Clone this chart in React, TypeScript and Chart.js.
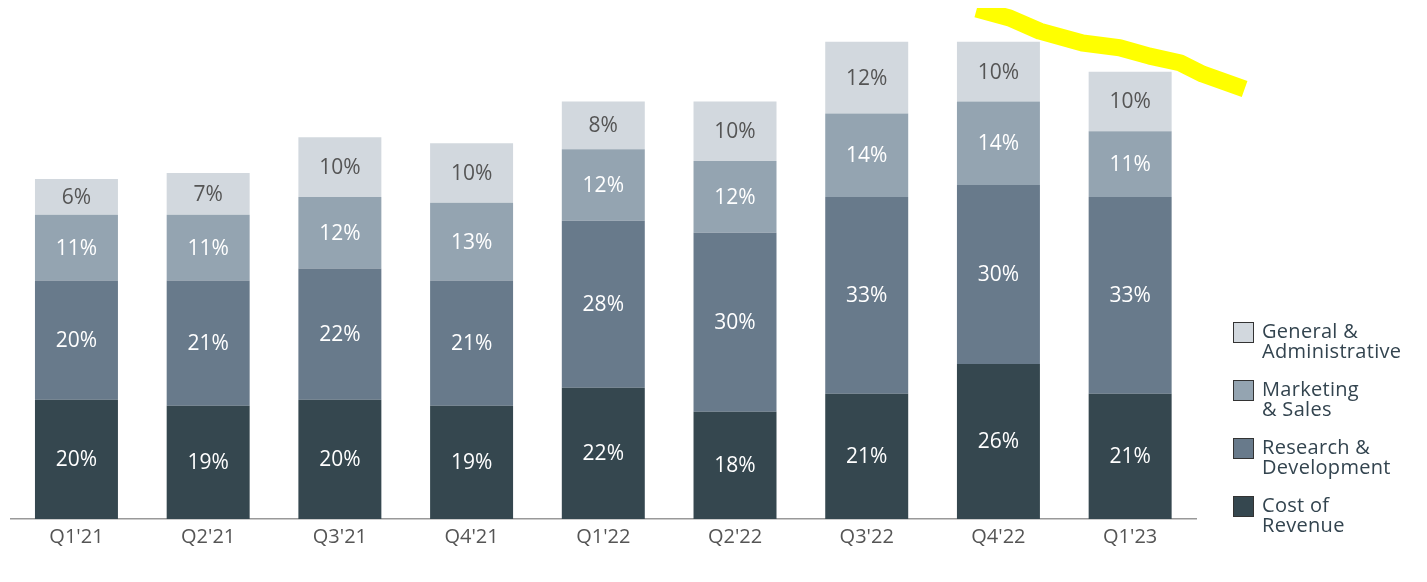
import React, { useEffect, useRef } from "react";
import { Chart, registerables } from "chart.js";

Chart.register(...registerables);

const categories = ["Q1'21", "Q2'21", "Q3'21", "Q4'21", "Q1'22", "Q2'22", "Q3'22", "Q4'22", "Q1'23"];
const costOfRevenue = [20, 19, 20, 19, 22, 18, 21, 26, 21];
const researchDev = [20, 21, 22, 21, 28, 30, 33, 30, 33];
const marketingSales = [11, 11, 12, 13, 12, 12, 14, 14, 11];
const generalAdmin = [6, 7, 10, 10, 8, 10, 12, 10, 10];

// hand-drawn yellow highlight stroke (in data units: category index, percent), listed right to left
const highlightX = [8.869, 8.55, 8.376, 8.148, 7.92, 7.639, 7.313, 7.085, 6.835];
const highlightY = [72.1, 74.6, 76.5, 77.6, 79.0, 79.8, 81.8, 84.0, 85.5];

const seriesNames = ["Cost of\nRevenue", "Research &\nDevelopment", "Marketing\n& Sales", "General &\nAdministrative"];
const seriesColors = ["#35474f", "#687a8b", "#94a4b1", "#d2d8de"];
const labelColors = ["#ffffff", "#ffffff", "#ffffff", "#555555"];

const FONT = "'Open Sans', sans-serif";

const labelPlugin = {
  id: "segLabels",
  afterDatasetsDraw(chart: any) {
    const ctx = chart.ctx;
    ctx.save();
    ctx.font = `21px ${FONT}`;
    ctx.textAlign = "center";
    ctx.textBaseline = "middle";
    chart.data.datasets.forEach((ds: any, di: number) => {
      if (ds.type === "line") return;
      const meta = chart.getDatasetMeta(di);
      meta.data.forEach((bar: any, i: number) => {
        const v = ds.data[i];
        const cy = (bar.y + bar.base) / 2;
        ctx.fillStyle = labelColors[di];
        ctx.fillText(`${v}%`, bar.x, cy + 1);
      });
    });
    ctx.restore();
  },
};

export default function App() {
  const ref = useRef<HTMLCanvasElement>(null);
  useEffect(() => {
    if (!ref.current) return;
    const barSets = [costOfRevenue, researchDev, marketingSales, generalAdmin].map((d, i) => ({
      type: "bar" as const,
      label: seriesNames[i],
      data: d,
      backgroundColor: seriesColors[i],
      borderWidth: 0,
      categoryPercentage: 1,
      barPercentage: 0.63,
      grouped: false,
      stack: "s",
      xAxisID: "x",
    }));
    const chart = new Chart(ref.current, {
      type: "bar",
      data: {
        labels: categories,
        datasets: [
          ...barSets,
          {
            type: "line" as const,
            label: "highlight",
            data: highlightX.map((x, i) => ({ x, y: highlightY[i] })),
            borderColor: "#ffff00",
            borderWidth: 17,
            borderCapStyle: "butt",
            borderJoinStyle: "round",
            pointRadius: 0,
            tension: 0,
            xAxisID: "x2",
            clip: false,
          } as any,
        ],
      },
      options: {
        responsive: false,
        animation: false,
        layout: { padding: { left: 2.6, right: 223, top: 4, bottom: 27 } },
        plugins: { legend: { display: false }, tooltip: { enabled: false } },
        scales: {
          x: {
            stacked: true,
            grid: { display: false },
            border: { display: true, color: "#999999", width: 1.5 },
            ticks: { color: "#555555", font: { size: 20, family: FONT }, padding: -2 },
          },
          x2: {
            type: "linear",
            display: false,
            offset: false,
            min: -0.5,
            max: 8.5,
          },
          y: {
            stacked: true,
            display: false,
            min: 0,
            max: 85,
          },
        },
      },
      plugins: [labelPlugin],
    } as any);
    return () => chart.destroy();
  }, []);

  const legendOrder = [3, 2, 1, 0];
  return (
    <div style={{ position: "relative", width: 1411, height: 566, fontFamily: FONT }}>
      <canvas ref={ref} width={1411} height={566} style={{ position: "absolute", left: 0, top: 0 }} />
      <div style={{ position: "absolute", left: 1225, top: 313 }}>
        {legendOrder.map((i) => (
          <div key={i} style={{ display: "flex", alignItems: "flex-start", marginBottom: 18 }}>
            <div
              style={{
                width: 19,
                height: 19,
                background: seriesColors[i],
                border: "1.5px solid #333",
                marginRight: 8,
                marginTop: 1,
                flexShrink: 0,
              }}
            />
            <div
              style={{
                fontSize: 20,
                lineHeight: "20px",
                letterSpacing: "0.3px",
                color: "#33444f",
                whiteSpace: "pre",
              }}
            >
              {seriesNames[i]}
            </div>
          </div>
        ))}
      </div>
    </div>
  );
}
